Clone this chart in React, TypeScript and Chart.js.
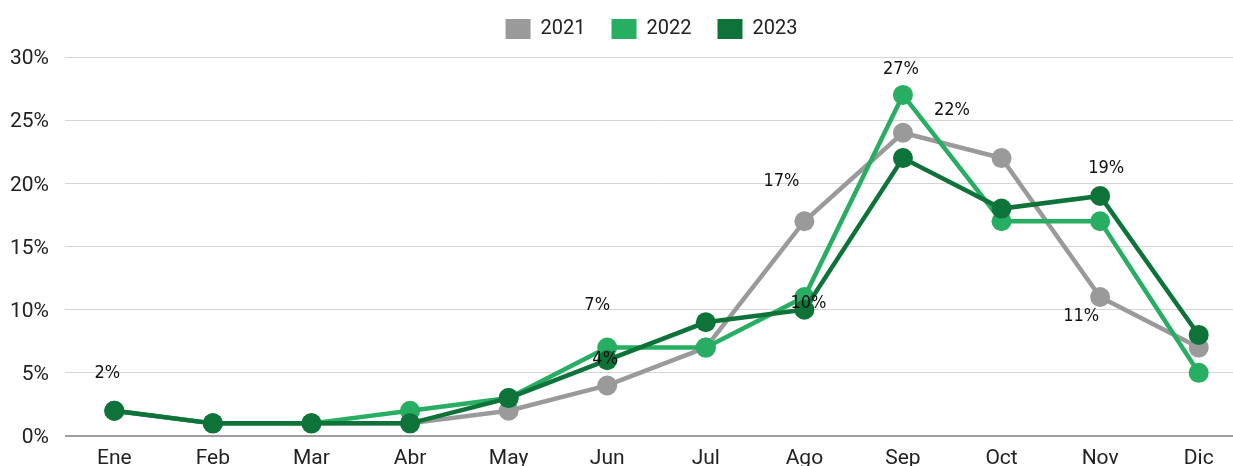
import React, { useEffect, useRef } from "react";
import { Chart, registerables } from "chart.js";

Chart.register(...registerables);

const months = ["Ene", "Feb", "Mar", "Abr", "May", "Jun", "Jul", "Ago", "Sep", "Oct", "Nov", "Dic"];
const seriesNames = ["2021", "2022", "2023"];
const values2021 = [2, 1, 1, 1, 2, 4, 7, 17, 24, 22, 11, 7];
const values2022 = [2, 1, 1, 2, 3, 7, 7, 11, 27, 17, 17, 5];
const values2023 = [2, 1, 1, 1, 3, 6, 9, 10, 22, 18, 19, 8];
const yTicks = [0, 5, 10, 15, 20, 25, 30];

const colors = ["#9a9a9a", "#28ae63", "#0d7339"];

// which points carry a value label, and where the label sits relative to the point
const labelMarks = [
  { series: 2, month: 0, dx: -7, dy: -37 },
  { series: 1, month: 5, dx: -10, dy: -42 },
  { series: 0, month: 5, dx: -2, dy: -26 },
  { series: 0, month: 7, dx: -23, dy: -40 },
  { series: 2, month: 7, dx: 4, dy: -6 },
  { series: 1, month: 8, dx: -2, dy: -26 },
  { series: 2, month: 8, dx: 49, dy: -48 },
  { series: 2, month: 10, dx: 6, dy: -28 },
  { series: 0, month: 10, dx: -19, dy: 19 },
];

const allSeries = [values2021, values2022, values2023];

const valueLabels = {
  id: "valueLabels",
  afterDatasetsDraw(chart: any) {
    const ctx = chart.ctx;
    ctx.save();
    ctx.font = "18px 'DejaVu Sans Condensed', 'DejaVu Sans', sans-serif";
    ctx.fillStyle = "#111111";
    ctx.textAlign = "center";
    ctx.textBaseline = "middle";
    for (const m of labelMarks) {
      const meta = chart.getDatasetMeta(m.series);
      const pt = meta.data[m.month];
      if (!pt) continue;
      ctx.fillText(allSeries[m.series][m.month] + "%", pt.x + m.dx, pt.y + m.dy);
    }
    ctx.restore();
  },
};

const legendTweak = {
  id: "legendTweak",
  beforeInit(chart: any) {
    const legend = chart.legend;
    if (!legend) return;
    const origFit = legend.fit;
    legend.fit = function () {
      origFit.call(this);
      this.height = 57;
    };
    const origDraw = legend.draw;
    legend.draw = function () {
      const ctx = this.ctx;
      ctx.save();
      ctx.translate(-5, -7);
      origDraw.call(this);
      ctx.restore();
    };
  },
};

export default function App() {
  const ref = useRef<HTMLCanvasElement>(null);

  useEffect(() => {
    if (!ref.current) return;
    const datasets = allSeries.map((vals, i) => ({
      label: seriesNames[i],
      data: vals,
      borderColor: colors[i],
      backgroundColor: colors[i],
      pointBackgroundColor: colors[i],
      pointBorderColor: colors[i],
      pointBorderWidth: 0,
      pointRadius: 10,
      pointHoverRadius: 10,
      borderWidth: 4.5,
      tension: 0,
      order: 2 - i,
    }));
    const chart = new Chart(ref.current, {
      type: "line",
      data: { labels: months, datasets },
      plugins: [legendTweak, valueLabels],
      options: {
        responsive: false,
        animation: false,
        devicePixelRatio: 1,
        layout: { padding: 0 },
        plugins: {
          tooltip: { enabled: false },
          legend: {
            position: "top",
            fullSize: false,
            labels: {
              boxWidth: 25,
              boxHeight: 20,
              padding: 26,
              color: "#222222",
              font: { family: "Roboto", size: 20 },
              sort: (a: any, b: any) => a.datasetIndex - b.datasetIndex,
              generateLabels: (c: any) =>
                Chart.defaults.plugins.legend.labels
                  .generateLabels(c)
                  .map((l: any) => ({ ...l, lineWidth: 0 })),
            },
          },
        },
        scales: {
          x: {
            type: "category",
            offset: true,
            grid: { display: false, drawTicks: false },
            border: { display: false },
            ticks: {
              color: "#222222",
              font: { family: "Roboto", size: 21 },
              padding: 10,
              autoSkip: false,
              maxRotation: 0,
            },
            afterFit: (axis: any) => {
              axis.height = 30;
            },
          },
          y: {
            min: 0,
            max: 30,
            afterBuildTicks: (axis: any) => {
              axis.ticks = yTicks.map((v) => ({ value: v }));
            },
            grid: {
              drawTicks: false,
              color: (c: any) => (c.tick && c.tick.value === 0 ? "#9e9e9e" : "#d4d4d4"),
              lineWidth: (c: any) => (c.tick && c.tick.value === 0 ? 2 : 1),
            },
            border: { display: false },
            ticks: {
              color: "#222222",
              font: { family: "Roboto", size: 21 },
              padding: 16,
              labelOffset: 2,
              callback: (v: any) => v + "%",
            },
            afterFit: (axis: any) => {
              axis.width = 65;
            },
          },
        },
      },
    });
    return () => chart.destroy();
  }, []);

  return (
    <div style={{ position: "absolute", left: 0, top: 0, width: 1233, height: 466, overflow: "hidden", background: "#ffffff" }}>
      <canvas ref={ref} width={1258} height={466} style={{ display: "block" }} />
    </div>
  );
}
